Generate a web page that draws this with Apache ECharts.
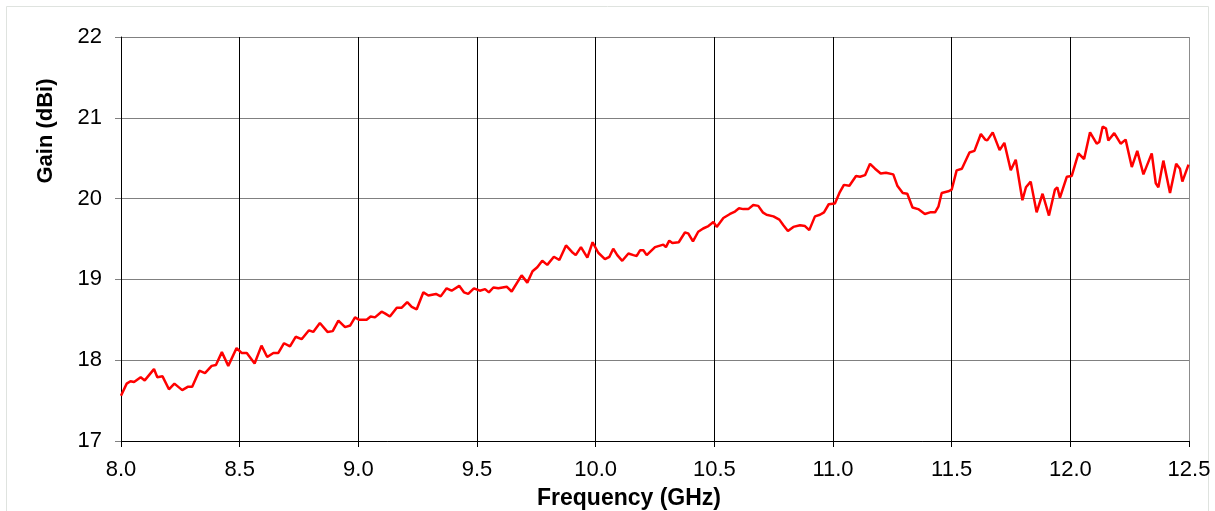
<!DOCTYPE html>
<html>
<head>
<meta charset="utf-8">
<script src="https://cdn.jsdelivr.net/npm/echarts@6/dist/echarts.min.js"></script>
<style>html,body{margin:0;padding:0;background:#fff;}#c{width:1215px;height:511px;}</style>
</head>
<body>
<div id="c"></div>
<script>
const freq = [8.000,8.024,8.040,8.055,8.083,8.100,8.139,8.153,8.175,8.202,8.225,8.258,8.281,8.300,8.330,8.354,8.382,8.400,8.425,8.452,8.487,8.508,8.530,8.563,8.592,8.616,8.642,8.663,8.687,8.712,8.736,8.761,8.792,8.810,8.838,8.870,8.892,8.916,8.944,8.966,8.986,9.004,9.035,9.052,9.070,9.098,9.112,9.133,9.162,9.183,9.206,9.225,9.246,9.274,9.295,9.327,9.347,9.372,9.393,9.425,9.445,9.463,9.487,9.512,9.534,9.550,9.569,9.590,9.625,9.646,9.688,9.712,9.734,9.754,9.775,9.796,9.824,9.847,9.875,9.900,9.916,9.938,9.965,9.987,10.011,10.039,10.058,10.074,10.091,10.112,10.138,10.159,10.173,10.187,10.201,10.215,10.250,10.285,10.296,10.310,10.323,10.330,10.350,10.376,10.390,10.410,10.432,10.453,10.475,10.496,10.510,10.538,10.566,10.587,10.604,10.622,10.643,10.664,10.685,10.704,10.720,10.749,10.774,10.791,10.810,10.833,10.861,10.882,10.900,10.924,10.945,10.962,10.982,11.008,11.027,11.046,11.069,11.097,11.114,11.135,11.156,11.177,11.201,11.223,11.254,11.271,11.294,11.313,11.335,11.359,11.387,11.409,11.430,11.444,11.458,11.486,11.500,11.521,11.543,11.575,11.596,11.623,11.641,11.650,11.673,11.702,11.722,11.749,11.770,11.798,11.813,11.833,11.858,11.883,11.910,11.935,11.945,11.956,11.985,12.006,12.034,12.058,12.083,12.111,12.122,12.136,12.150,12.160,12.185,12.212,12.233,12.259,12.282,12.308,12.343,12.360,12.371,12.392,12.420,12.446,12.462,12.472,12.498];
const gain = [17.56,17.71,17.74,17.73,17.79,17.75,17.89,17.79,17.80,17.64,17.71,17.63,17.67,17.67,17.87,17.84,17.93,17.94,18.10,17.93,18.15,18.09,18.09,17.96,18.18,18.04,18.09,18.09,18.21,18.17,18.29,18.26,18.37,18.35,18.46,18.35,18.36,18.49,18.41,18.43,18.53,18.50,18.50,18.54,18.53,18.60,18.58,18.54,18.65,18.65,18.72,18.66,18.63,18.84,18.80,18.82,18.79,18.89,18.86,18.92,18.84,18.82,18.89,18.86,18.88,18.84,18.90,18.89,18.91,18.85,19.05,18.96,19.10,19.15,19.23,19.18,19.28,19.24,19.42,19.34,19.30,19.40,19.27,19.46,19.33,19.25,19.28,19.38,19.30,19.23,19.32,19.30,19.29,19.36,19.36,19.30,19.40,19.43,19.40,19.48,19.45,19.47,19.46,19.58,19.57,19.47,19.59,19.63,19.66,19.71,19.65,19.76,19.81,19.84,19.88,19.87,19.87,19.92,19.91,19.83,19.80,19.78,19.74,19.67,19.60,19.65,19.67,19.66,19.61,19.78,19.80,19.83,19.93,19.94,20.07,20.17,20.16,20.28,20.27,20.29,20.43,20.37,20.31,20.32,20.30,20.16,20.07,20.06,19.89,19.87,19.81,19.83,19.83,19.90,20.07,20.09,20.11,20.35,20.37,20.57,20.59,20.80,20.73,20.72,20.82,20.60,20.69,20.35,20.48,19.98,20.14,20.21,19.83,20.06,19.79,20.11,20.14,20.01,20.27,20.28,20.56,20.49,20.82,20.68,20.70,20.89,20.87,20.72,20.81,20.68,20.73,20.39,20.59,20.30,20.56,20.19,20.14,20.47,20.07,20.43,20.37,20.21,20.42];
const xTicks = [8.0,8.5,9.0,9.5,10.0,10.5,11.0,11.5,12.0,12.5];
const yTicks = [17,18,19,20,21,22];
const xTitle = 'Frequency (GHz)';
const yTitle = 'Gain (dBi)';

const chart = echarts.init(document.getElementById('c'), null, {renderer:'canvas'});
const font = '"Liberation Sans", Arial, sans-serif';
const vColors = xTicks.map((t,i)=> i === xTicks.length-1 ? '#8c8c8c' : '#000000');
chart.setOption({
  animation:false,
  backgroundColor:'#ffffff',
  graphic:[
    {type:'rect', shape:{x:6.5,y:6.5,width:1202,height:520}, style:{fill:'none', stroke:'#dfe3df', lineWidth:1}, z:-1},
    {type:'text', x:629, y:499, style:{text:xTitle, font:'bold 23px ' + font, fill:'#000', textAlign:'center', textVerticalAlign:'middle'}},
    {type:'text', x:46, y:131, rotation:Math.PI/2, style:{text:yTitle, font:'bold 22px ' + font, fill:'#000', textAlign:'center', textVerticalAlign:'middle'}}
  ],
  grid:{left:121, right:26, top:37, bottom:70, show:false},
  xAxis:{
    type:'value', min:8, max:12.5, interval:0.5,
    axisLine:{show:true, lineStyle:{color:'#000', width:1}},
    axisTick:{show:true, length:6, lineStyle:{color:'#000'}},
    axisLabel:{margin:18, fontFamily:font, fontSize:22, color:'#000', formatter:v=>v.toFixed(1)},
    splitLine:{show:true, lineStyle:{color:vColors, width:1}}
  },
  yAxis:{
    type:'value', min:17, max:22, interval:1,
    axisLine:{show:true, lineStyle:{color:'#000', width:1}},
    axisTick:{show:true, length:6, lineStyle:{color:'#808080'}},
    axisLabel:{margin:19, fontFamily:font, fontSize:22, color:'#000', padding:[5,0,0,0]},
    splitLine:{show:true, lineStyle:{color:'#808080', width:1}}
  },
  series:[{
    type:'line', data:freq.map((f,i)=>[f,gain[i]]), showSymbol:false, symbol:'none',
    lineStyle:{color:'#ff0000', width:2.5}, z:5
  }]
});
</script>
</body>
</html>
